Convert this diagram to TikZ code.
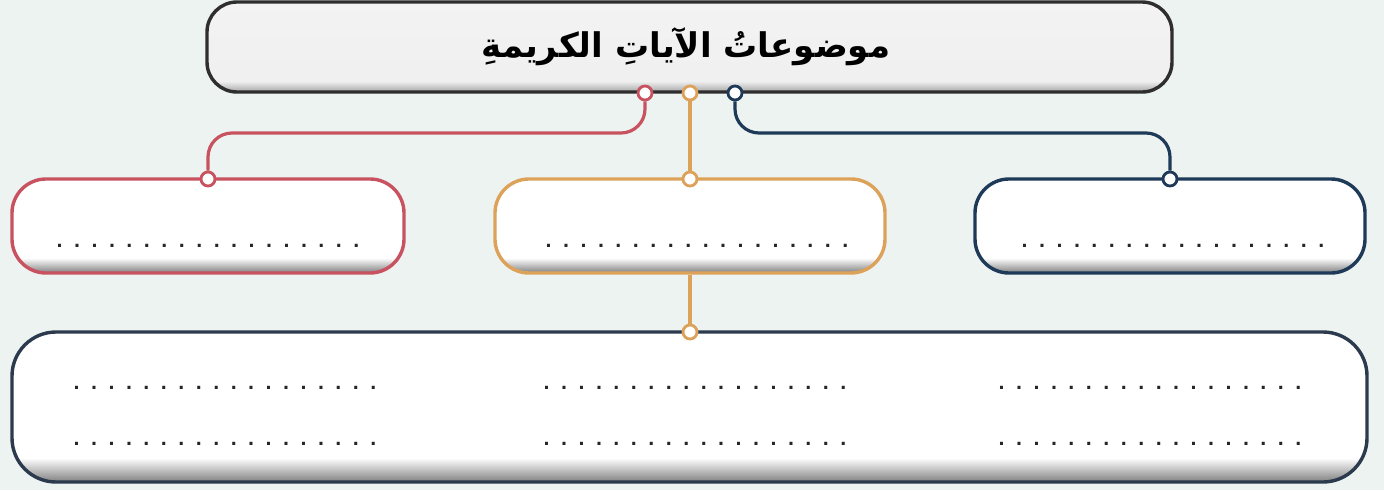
\documentclass[tikz,border=0pt]{standalone}
\usepackage{fontspec}
\newfontfamily\arabicfont[Script=Arabic]{DejaVu Sans}
\newfontfamily\dotfont{DejaVu Sans}
\TeXXeTstate=1
\usetikzlibrary{calc}
\definecolor{bgc}{HTML}{EDF3F1}
\definecolor{rosec}{HTML}{C8525F}
\definecolor{orangec}{HTML}{DDA25A}
\definecolor{navyc}{HTML}{1E3A58}
\definecolor{darkc}{HTML}{2E2E2E}
\definecolor{botc}{HTML}{2C3A4E}
\pgfdeclareverticalshading{boxsh}{100bp}{color(0bp)=(black!60); color(25bp)=(black!50); color(33bp)=(white); color(100bp)=(white)}
\pgfdeclareverticalshading{topsh}{100bp}{color(0bp)=(black!45); color(25bp)=(black!35); color(31bp)=(black!6); color(100bp)=(black!4)}
\newcommand{\dotrow}{{\dotfont\fontsize{17}{17}\selectfont\bfseries\makebox[315pt]{\xleaders\hbox to 16.58pt{\hss.\hss}\hfill}}}
\tikzset{
  cardbox/.style={draw, line width=3.4pt, rounded corners=34pt, shading=boxsh, inner sep=0pt},
  knob/.style={circle, draw, fill=white, line width=2.8pt, minimum size=14pt, inner sep=0pt},
  conn/.style={line width=3.2pt, rounded corners=24pt},
  dotslabel/.style={inner sep=0pt, text=black!85}
}
\begin{document}
\begin{tikzpicture}[x=1pt,y=-1pt]
\fill[bgc] (0,0) rectangle (1384,490);
\useasboundingbox (0,0) rectangle (1384,490);
% boxes
\node[cardbox, draw=darkc, shading=topsh, rounded corners=30pt, minimum width=965pt, minimum height=90pt] (top) at (689.5,47) {};
\node[inner sep=0pt] (title) at (686,47) {\arabicfont\bfseries\fontsize{34}{36}\selectfont\beginR موضوعاتُ الآياتِ الكريمةِ\endR};
\node[cardbox, draw=rosec, minimum width=392pt, minimum height=94pt] (left) at (208,226) {};
\node[cardbox, draw=orangec, minimum width=390pt, minimum height=94pt] (mid) at (690,226) {};
\node[cardbox, draw=navyc, minimum width=390pt, minimum height=94pt] (right) at (1170,226) {};
\node[cardbox, draw=botc, rounded corners=44pt, minimum width=1355pt, minimum height=150pt] (bottom) at (689.5,407) {};
% dotted lines
\node[dotslabel] (d1) at (208,246) {\dotrow};
\node[dotslabel] (d2) at (697,246) {\dotrow};
\node[dotslabel] (d3) at (1173,246) {\dotrow};
\node[dotslabel] (d4) at (225,388) {\dotrow};
\node[dotslabel] (d5) at (695,388) {\dotrow};
\node[dotslabel] (d6) at (1150,388) {\dotrow};
\node[dotslabel] (d7) at (225,444) {\dotrow};
\node[dotslabel] (d8) at (695,444) {\dotrow};
\node[dotslabel] (d9) at (1150,444) {\dotrow};
% knobs
\coordinate (rowY) at (0,133);
\node[knob, draw=rosec] (rT) at (645,93) {};
\node[knob, draw=orangec] (oT) at (690,93) {};
\node[knob, draw=navyc] (bT) at (735,93) {};
\node[knob, draw=rosec] (rB) at (208,179) {};
\node[knob, draw=orangec] (oB) at (690,179) {};
\node[knob, draw=navyc] (bB) at (1170,179) {};
\node[knob, draw=orangec] (oD) at (690,332) {};
% connectors
\draw[conn, rosec] (rT) -- (rT |- rowY) -- (rB |- rowY) -- (rB);
\draw[conn, orangec] (oT) -- (oB);
\draw[conn, navyc] (bT) -- (bT |- rowY) -- (bB |- rowY) -- (bB);
\draw[conn, orangec] (mid.south) -- (oD);
\end{tikzpicture}
\end{document}
